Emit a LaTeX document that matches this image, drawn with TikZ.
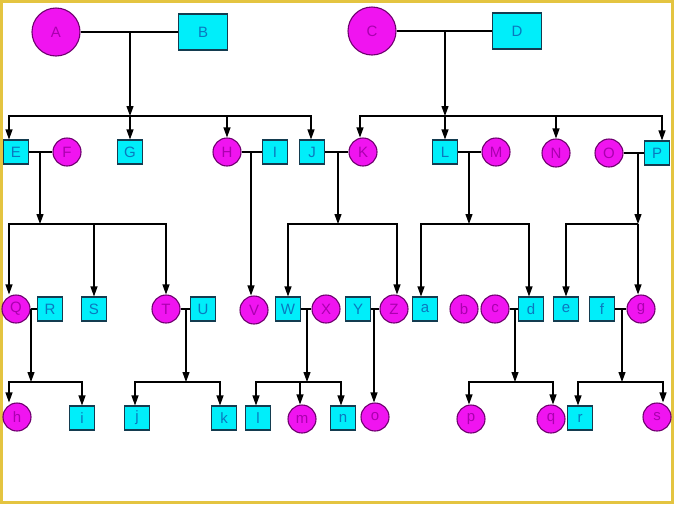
\documentclass[tikz,border=0pt]{standalone}
\usepackage{fontspec}
\setmainfont{Liberation Sans}
\usetikzlibrary{arrows.meta,positioning}
\definecolor{boxfill}{RGB}{0,238,250}
\definecolor{boxline}{RGB}{20,60,80}
\definecolor{boxtext}{RGB}{10,120,190}
\definecolor{circfill}{RGB}{240,20,240}
\definecolor{circline}{RGB}{110,0,110}
\definecolor{circtext}{RGB}{170,0,175}
\definecolor{framegold}{RGB}{228,196,64}

\begin{document}
\begin{tikzpicture}[x=1pt,y=-1pt,
font=\fontsize{15}{17}\selectfont,
box/.style={rectangle,draw=boxline,fill=boxfill,text=boxtext,minimum width=25pt,minimum height=24pt,inner sep=0pt},
circ/.style={circle,draw=circline,fill=circfill,text=circtext,minimum size=28pt,inner sep=0pt},
bigbox/.style={box,minimum width=49pt,minimum height=36pt},
bigcirc/.style={circ,minimum size=48pt},
arr/.style={-{Triangle[length=10pt,width=7pt]}},
every path/.style={line width=1.1pt}]
\useasboundingbox (0,0) rectangle (674,504);
\fill[white] (0,0) rectangle (674,504);
\draw[framegold,line width=3pt] (1.5,1.5) rectangle (672.5,502.5);

% generation 1
\node[bigcirc] (A) at (56,32) {A};
\node[bigbox] (B) at (203,32) {B};
\node[bigcirc] (C) at (372,31) {C};
\node[bigbox] (D) at (517,31) {D};

% generation 2
\node[box] (E) at (16,152) {E};
\node[circ] (F) at (67,152) {F};
\node[box] (G) at (130,152) {G};
\node[circ] (H) at (227,152) {H};
\node[box] (I) at (275,152) {I};
\node[box] (J) at (312,152) {J};
\node[circ] (K) at (363,152) {K};
\node[box] (L) at (445,152) {L};
\node[circ] (M) at (496,152) {M};
\node[circ] (N) at (556,153) {N};
\node[circ] (O) at (609,153) {O};
\node[box] (P) at (657,153) {P};

% generation 3
\node[circ] (Q) at (16,309) {Q};
\node[box] (R) at (50,309) {R};
\node[box] (S) at (94,309) {S};
\node[circ] (T) at (166,309) {T};
\node[box] (U) at (203,309) {U};
\node[circ] (V) at (254,310) {V};
\node[box] (W) at (288,309) {W};
\node[circ] (X) at (326,309) {X};
\node[box] (Y) at (358,309) {Y};
\node[circ] (Z) at (394,309) {Z};
\node[box] (a) at (425,309) {a};
\node[circ] (b) at (464,309) {b};
\node[circ] (c) at (495,309) {c};
\node[box] (d) at (531,309) {d};
\node[box] (e) at (566,309) {e};
\node[box] (f) at (602,309) {f};
\node[circ] (g) at (641,309) {g};

% generation 4
\node[circ] (h) at (17,417) {h};
\node[box] (i) at (82,418) {i};
\node[box] (j) at (137,418) {j};
\node[box] (k) at (224,418) {k};
\node[box] (l) at (258,418) {l};
\node[circ] (m) at (302,419) {m};
\node[box] (n) at (343,418) {n};
\node[circ] (o) at (375,417) {o};
\node[circ] (p) at (471,419) {p};
\node[circ] (q) at (551,419) {q};
\node[box] (r) at (580,418) {r};
\node[circ] (s) at (657,417) {s};

% couples and their junctions
\coordinate (AB) at (130,32);   \coordinate (ABbus) at (130,116);
\coordinate (CD) at (445,31);   \coordinate (CDbus) at (445,116);
\coordinate (EF) at (40,152);   \coordinate (EFbus) at (40,224);
\coordinate (HI) at (251,152);
\coordinate (JK) at (338,152);  \coordinate (JKbus) at (338,224);
\coordinate (LM) at (469,152);  \coordinate (LMbus) at (469,224);
\coordinate (OP) at (638,153);  \coordinate (OPbus) at (638,224);
\coordinate (QR) at (31,309);   \coordinate (QRbus) at (31,382);
\coordinate (TU) at (186,309);  \coordinate (TUbus) at (186,382);
\coordinate (WX) at (307,309);  \coordinate (WXbus) at (307,382);
\coordinate (YZ) at (374,309);
\coordinate (cd) at (515,309);  \coordinate (cdbus) at (515,382);
\coordinate (fg) at (622,309);  \coordinate (fgbus) at (622,382);

\draw (A) -- (B);
\draw (C) -- (D);
\draw (E) -- (F);
\draw (H) -- (I);
\draw (J) -- (K);
\draw (L) -- (M);
\draw (O) -- (P);
\draw (Q) -- (R);
\draw (T) -- (U);
\draw (W) -- (X);
\draw (Y) -- (Z);
\draw (c) -- (d);
\draw (f) -- (g);

% children of A and B
\draw[arr] (AB) -- (ABbus);
\draw[arr] (ABbus) -| ([xshift=-7pt]E.north);
\draw[arr] (ABbus) -- (G.north);
\draw[arr] (ABbus) -| (H.north);
\draw[arr] (ABbus) -| ([xshift=-1pt]J.north);

% children of C and D
\draw[arr] (CD) -- (CDbus);
\draw[arr] (CDbus) -| ([xshift=-3pt]K.north);
\draw[arr] (CDbus) -- (L.north);
\draw[arr] (CDbus) -| (N.north);
\draw[arr] (CDbus) -| ([xshift=5pt]P.north);

% generation 3 families
\draw[arr] (EF) -- (EFbus);
\draw[arr] (EFbus) -| ([xshift=-7pt]Q.north);
\draw[arr] (EFbus) -| (S.north);
\draw[arr] (EFbus) -| (T.north);
\draw[arr] (HI) -- ([xshift=-3pt]V.north);
\draw[arr] (JK) -- (JKbus);
\draw[arr] (JKbus) -| (W.north);
\draw[arr] (JKbus) -| ([xshift=3pt]Z.north);
\draw[arr] (LM) -- (LMbus);
\draw[arr] (LMbus) -| ([xshift=-4pt]a.north);
\draw[arr] (LMbus) -| ([xshift=-2pt]d.north);
\draw[arr] (OP) -- (OPbus);
\draw[arr] (OPbus) -| (e.north);
\draw[arr] (OPbus) -| ([xshift=-3pt]g.north);

% generation 4 families
\draw[arr] (QR) -- (QRbus);
\draw[arr] (QRbus) -| ([xshift=-8pt]h.north);
\draw[arr] (QRbus) -| (i.north);
\draw[arr] (TU) -- (TUbus);
\draw[arr] (TUbus) -| ([xshift=-2pt]j.north);
\draw[arr] (TUbus) -| ([xshift=-4pt]k.north);
\draw[arr] (WX) -- (WXbus);
\draw[arr] (WXbus) -| ([xshift=-2pt]l.north);
\draw[arr] (WXbus) -| ([xshift=-2pt]m.north);
\draw[arr] (WXbus) -| ([xshift=-2pt]n.north);
\draw[arr] (YZ) -- ([xshift=-1pt]o.north);
\draw[arr] (cd) -- (cdbus);
\draw[arr] (cdbus) -| ([xshift=-2pt]p.north);
\draw[arr] (cdbus) -| ([xshift=2pt]q.north);
\draw[arr] (fg) -- (fgbus);
\draw[arr] (fgbus) -| ([xshift=-2pt]r.north);
\draw[arr] (fgbus) -| ([xshift=6pt]s.north);
\end{tikzpicture}
\end{document}
